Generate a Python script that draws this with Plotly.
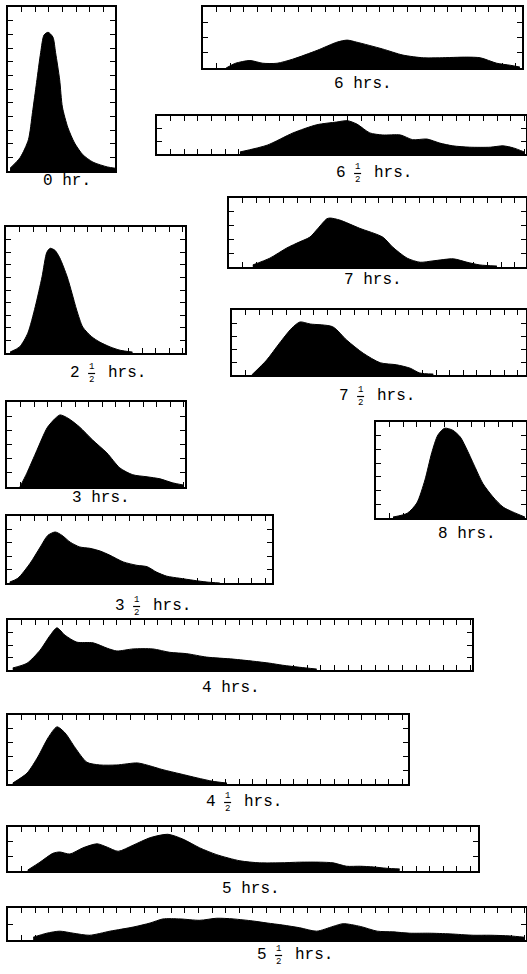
import plotly.graph_objects as go

# profiles, x and y in graph-paper squares from the box's lower-left corner
hr0_x = [0.15, 0.9, 1.5, 1.8, 2.1, 2.4, 2.65, 2.95, 3.3, 3.5, 3.8, 4.0, 4.4, 4.9, 5.5, 6.25, 7.3, 7.9]
hr0_y = [0.2, 1.0, 2.3, 4.3, 6.5, 8.7, 10.0, 10.2, 9.85, 8.7, 6.7, 4.7, 3.2, 2.05, 1.2, 0.65, 0.3, 0.2]

hr6_x = [1.7, 2.4, 3.45, 4.4, 5.45, 6.6, 8.4, 9.85, 10.6, 11.3, 13.2, 14.7, 16.2, 17.4, 19.4, 20.4, 21.6, 22.6, 23.3]
hr6_y = [0.0, 0.35, 0.55, 0.35, 0.35, 0.65, 1.3, 1.9, 2.05, 1.9, 1.4, 0.95, 0.75, 0.75, 0.8, 0.75, 0.35, 0.2, 0.07]

hr6h_x = [6.1, 8.1, 10.0, 11.75, 13.2, 14.0, 14.7, 15.65, 16.6, 17.9, 18.8, 19.85, 20.8, 21.75, 23.0, 24.5, 25.45, 26.2, 27.0]
hr6h_y = [0.15, 0.65, 1.55, 2.15, 2.35, 2.45, 2.2, 1.55, 1.4, 1.4, 1.05, 1.1, 0.8, 0.6, 0.5, 0.5, 0.6, 0.45, 0.15]

hr2h_x = [0.3, 1.0, 1.6, 2.15, 2.65, 3.0, 3.25, 3.6, 3.95, 4.5, 4.85, 5.2, 5.65, 6.3, 6.9, 7.65, 8.4, 9.3]
hr2h_y = [0.07, 0.45, 1.45, 3.4, 5.6, 7.4, 7.7, 7.55, 7.0, 5.6, 4.4, 3.15, 1.9, 1.2, 0.8, 0.45, 0.2, 0.07]

hr7_x = [1.75, 3.0, 4.25, 5.2, 5.95, 6.55, 7.2, 7.45, 8.15, 9.6, 11.3, 12.05, 13.1, 14.05, 15.0, 16.5, 17.5, 18.45, 19.7]
hr7_y = [0.15, 0.65, 1.4, 1.85, 2.2, 2.85, 3.55, 3.6, 3.45, 2.85, 2.2, 1.45, 0.65, 0.35, 0.45, 0.6, 0.35, 0.15, 0.07]

hr7h_x = [1.45, 2.55, 3.5, 4.4, 5.0, 5.75, 7.4, 8.45, 9.65, 10.9, 12.1, 13.1, 13.8, 14.8]
hr7h_y = [0.0, 1.1, 2.35, 3.45, 3.9, 3.75, 3.55, 2.55, 1.6, 0.9, 0.75, 0.5, 0.15, 0.07]

hr3_x = [0.95, 1.45, 2.2, 2.95, 3.55, 3.9, 4.5, 5.35, 6.3, 7.35, 8.3, 9.25, 10.3, 11.25, 12.2, 12.95]
hr3_y = [0.0, 1.0, 2.7, 4.35, 5.05, 5.3, 5.05, 4.4, 3.45, 2.5, 1.4, 0.9, 0.75, 0.6, 0.3, 0.15]

hr3h_x = [0.2, 0.8, 1.7, 2.45, 3.0, 3.55, 4.05, 4.65, 5.35, 6.1, 6.85, 7.55, 8.55, 9.55, 10.3, 11.0, 11.75, 12.7, 13.7, 14.7, 15.65]
hr3h_y = [0.07, 0.35, 1.45, 2.65, 3.5, 3.75, 3.5, 3.0, 2.65, 2.55, 2.35, 2.05, 1.55, 1.3, 1.2, 0.8, 0.5, 0.35, 0.2, 0.07, 0.0]

hr8_x = [1.25, 2.3, 3.0, 3.6, 4.1, 4.55, 5.05, 5.65, 6.2, 6.7, 7.3, 7.85, 8.6, 9.35, 10.05, 10.95]
hr8_y = [0.07, 0.35, 1.1, 2.8, 4.8, 6.1, 6.6, 6.45, 5.95, 5.0, 3.7, 2.55, 1.55, 0.8, 0.45, 0.07]

hr4_x = [0.35, 1.4, 2.35, 3.1, 3.6, 4.2, 5.05, 6.25, 7.3, 8.0, 9.2, 10.65, 11.9, 13.15, 14.6, 16.55, 18.0, 19.25, 20.2, 21.45, 22.7]
hr4_y = [0.15, 0.5, 1.45, 2.55, 3.1, 2.55, 2.05, 2.0, 1.6, 1.4, 1.55, 1.55, 1.3, 1.2, 0.95, 0.8, 0.65, 0.5, 0.35, 0.2, 0.07]

hr4h_x = [0.35, 1.4, 2.2, 2.95, 3.6, 4.2, 4.95, 5.8, 6.75, 8.0, 9.5, 10.2, 11.4, 12.65, 13.9, 15.05, 16.1]
hr4h_y = [0.07, 0.8, 2.0, 3.4, 4.2, 3.75, 2.65, 1.6, 1.4, 1.4, 1.55, 1.4, 1.05, 0.75, 0.45, 0.2, 0.07]

hr5_x = [1.45, 2.35, 3.3, 3.8, 4.55, 5.5, 6.55, 7.3, 8.1, 9.2, 10.45, 11.75, 12.85, 14.1, 15.35, 17.05,
         18.5, 20.0, 21.45, 22.95, 23.9, 24.9, 25.9, 26.85, 27.85, 28.8]
hr5_y = [0.07, 0.65, 1.3, 1.4, 1.25, 1.7, 2.0, 1.75, 1.45, 1.9, 2.45, 2.7, 2.35, 1.7, 1.2, 0.75,
         0.6, 0.6, 0.65, 0.65, 0.6, 0.35, 0.35, 0.3, 0.2, 0.15]

hr5h_x = [1.85, 2.85, 3.8, 4.8, 6.0, 7.5, 9.2, 10.45, 11.4, 12.65, 14.1, 15.35, 16.55, 18.0, 19.05, 20.2,
          21.45, 22.7, 23.9, 24.65, 25.9, 27.15, 28.3, 29.55, 31.0, 32.5, 34.2, 35.45, 36.9, 38.0]
hr5h_y = [0.2, 0.5, 0.65, 0.5, 0.35, 0.65, 0.95, 1.25, 1.55, 1.55, 1.45, 1.6, 1.55, 1.4, 1.25, 1.1,
          0.9, 0.65, 1.0, 1.2, 1.0, 0.65, 0.6, 0.5, 0.5, 0.45, 0.35, 0.35, 0.3, 0.2]

hours = ["0", "6", "6", "2", "7", "7", "3", "3", "8", "4", "4", "5", "5"]
has_half = [False, False, True, True, False, True, False, True, False, False, True, False, True]
unit_word = ["hr.", "hrs.", "hrs.", "hrs.", "hrs.", "hrs.", "hrs.", "hrs.", "hrs.", "hrs.", "hrs.", "hrs.", "hrs."]

series = [(hr0_x, hr0_y), (hr6_x, hr6_y), (hr6h_x, hr6h_y), (hr2h_x, hr2h_y), (hr7_x, hr7_y),
          (hr7h_x, hr7h_y), (hr3_x, hr3_y), (hr3h_x, hr3h_y), (hr8_x, hr8_y), (hr4_x, hr4_y),
          (hr4h_x, hr4h_y), (hr5_x, hr5_y), (hr5h_x, hr5h_y)]

# page layout (pixels): box left, top, right, bottom; number of side ticks; label centre
W, H = 527, 974
UNIT = 13.6
boxes = [(8, 7, 115, 171), (203, 7, 522, 68), (157, 116, 526, 154), (6, 227, 185, 353),
         (229, 198, 526, 267), (232, 310, 526, 375), (7, 402, 185, 487), (7, 516, 272, 583),
         (376, 422, 526, 518), (8, 620, 472, 670), (8, 715, 408, 784), (8, 827, 478, 871),
         (8, 908, 526, 940)]
side_ticks = [11, 3, 2, 9, 4, 4, 5, 4, 6, 3, 4, 2, 1]
label_xy = [(67, 181), (363, 84), (372, 173), (106, 373), (373, 280), (375, 396), (101, 498),
            (151, 606), (467, 534), (231, 688), (242, 802), (251, 889), (293, 955)]

FONT = "Liberation Mono"
FS = 16
CW = FS * 0.6

fig = go.Figure()
layout = {}
annotations = []
shapes = []


def note(px, py, text, size, anchor="center"):
    annotations.append(dict(x=px / W, y=1 - py / H, text=text, xref="paper", yref="paper",
                            showarrow=False, xanchor=anchor, yanchor="middle",
                            font=dict(family=FONT, size=size, color="black")))


for i, ((xs, ys), (l, t, r, b), n) in enumerate(zip(series, boxes, side_ticks)):
    k = "" if i == 0 else str(i + 1)
    xr = (r - l) / UNIT
    yr = (b - t) / UNIT
    fig.add_trace(go.Scatter(
        x=xs, y=ys, xaxis="x" + k, yaxis="y" + k,
        mode="lines", line=dict(color="black", width=1, shape="spline", smoothing=0.7),
        fill="tozeroy", fillcolor="black", hoverinfo="skip"
    ))
    common = dict(showline=True, linewidth=2, linecolor="black", mirror="ticks",
                  ticks="inside", ticklen=5, tickwidth=1.3, tickcolor="black",
                  showticklabels=False, showgrid=False, zeroline=False, fixedrange=True)
    layout["xaxis" + k] = dict(domain=[l / W, r / W], range=[0, xr], tick0=1, dtick=1,
                               anchor="y" + k, **common)
    layout["yaxis" + k] = dict(domain=[1 - b / H, 1 - t / H], range=[0, yr], tick0=0,
                               dtick=yr / (n + 1), anchor="x" + k, **common)

    cx, cy = label_xy[i]
    if has_half[i]:
        # "6 1/2 hrs." with the fraction stacked, typewriter style
        left = cx - 4 * CW
        note(left, cy, hours[i], FS, "left")
        fx = left + 2.5 * CW
        note(fx, cy - 6, "1", 9)
        note(fx, cy + 7, "2", 9)
        shapes.append(dict(type="line", xref="paper", yref="paper",
                           x0=(fx - 3.5) / W, x1=(fx + 3.5) / W,
                           y0=1 - (cy + 0.5) / H, y1=1 - (cy + 0.5) / H,
                           line=dict(color="black", width=1.2)))
        note(left + 4 * CW, cy, unit_word[i], FS, "left")
    else:
        note(cx, cy, hours[i] + " " + unit_word[i], FS)

fig.update_layout(
    width=W, height=H,
    margin=dict(l=0, r=0, t=0, b=0),
    paper_bgcolor="white", plot_bgcolor="white",
    showlegend=False,
    annotations=annotations,
    shapes=shapes,
    **layout
)

fig.write_html("out.html", config={"displayModeBar": False},
               post_script="document.body.style.margin='0';")
